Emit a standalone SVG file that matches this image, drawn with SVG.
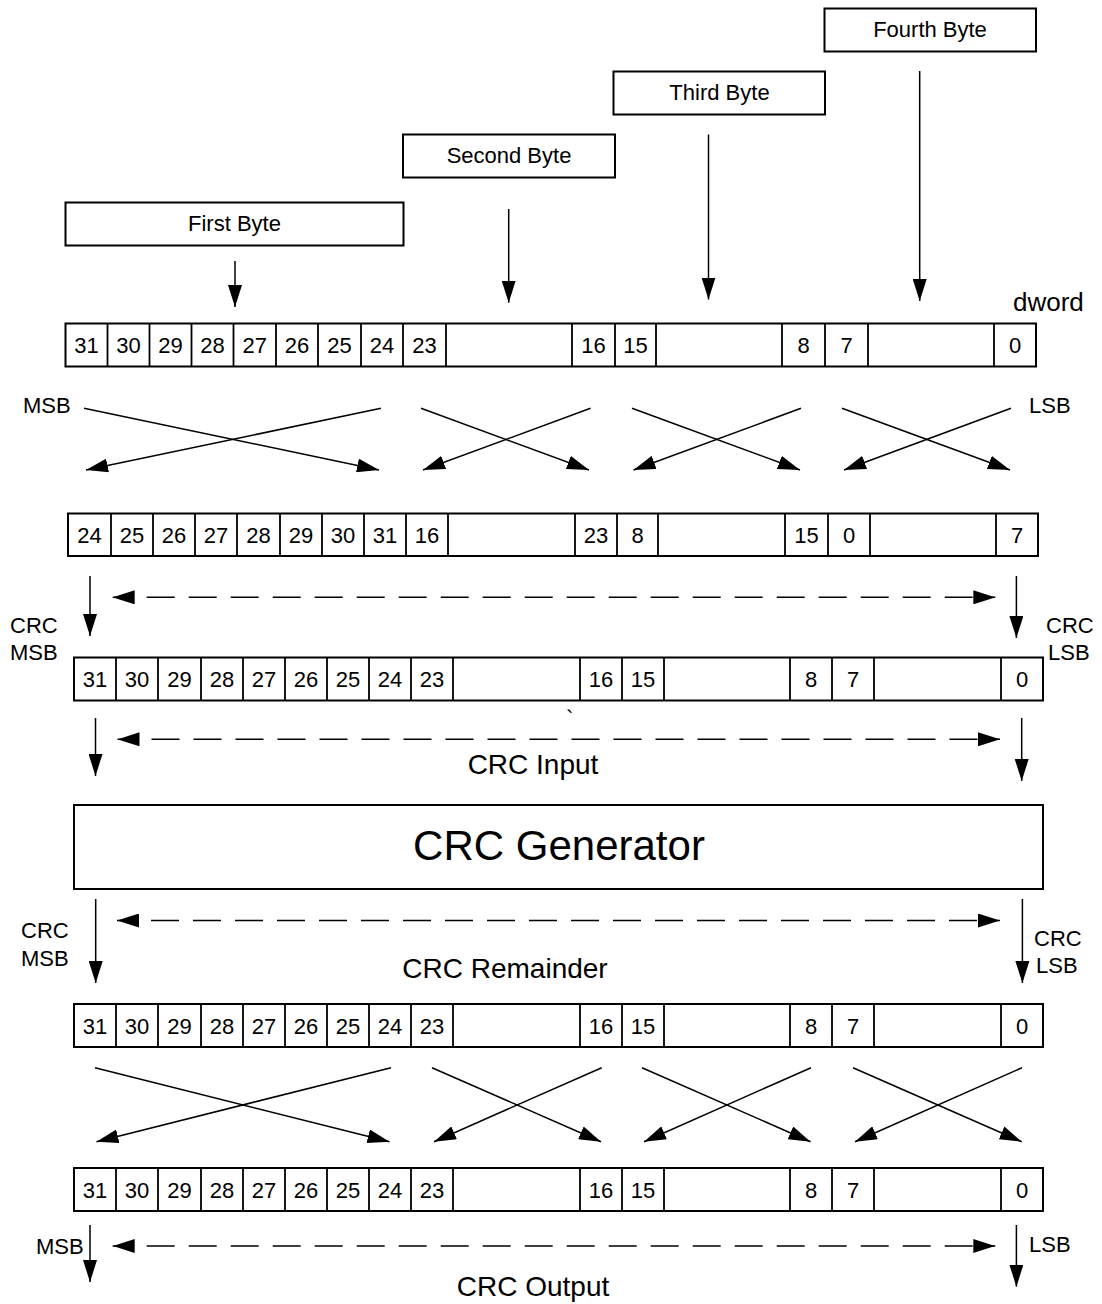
<svg xmlns="http://www.w3.org/2000/svg" width="1102" height="1304" viewBox="0 0 1102 1304">
<style>
text{font-family:"Liberation Sans",Arial,sans-serif;fill:#000}
.lbl{font-size:22px;text-anchor:middle}
.d{font-size:22px;text-anchor:middle}
.big{font-size:28px;text-anchor:middle}
.side{font-size:22px}
.box{fill:#fff;stroke:#000;stroke-width:2}
.div{stroke:#000;stroke-width:1.8}
.ln{stroke:#000;stroke-width:1.5;fill:none;marker-end:url(#ah)}
.dash{stroke:#000;stroke-width:1.5;fill:none;stroke-dasharray:28 14;stroke-dashoffset:8;marker-start:url(#ah);marker-end:url(#ah)}
</style>
<defs>
<marker id="ah" markerUnits="userSpaceOnUse" markerWidth="22" markerHeight="14" refX="22" refY="7" orient="auto-start-reverse">
<path d="M0,0 L22,7 L0,14 z" fill="#000"/>
</marker>
</defs>
<rect width="1102" height="1304" fill="#fff"/>

<g id="fourth-byte"><rect class="box" x="824.5" y="8.5" width="211.5" height="43"/><text class="lbl" x="930" y="37">Fourth Byte</text></g>
<g id="third-byte"><rect class="box" x="613.5" y="71.5" width="211.5" height="43"/><text class="lbl" x="719.5" y="100">Third Byte</text></g>
<g id="second-byte"><rect class="box" x="403" y="134.5" width="212" height="43"/><text class="lbl" x="509" y="163">Second Byte</text></g>
<g id="first-byte"><rect class="box" x="65.5" y="202.5" width="338" height="43"/><text class="lbl" x="234.5" y="231">First Byte</text></g>

<text id="dword-label" x="1013" y="311" style="font-size:26px">dword</text>

<g id="row-dword">
<rect class="box" x="65.5" y="323.5" width="970.5" height="43"/>
<path class="div" d="M107.5,323.5V366.5M149.5,323.5V366.5M191.5,323.5V366.5M233.5,323.5V366.5M276,323.5V366.5M318,323.5V366.5M361,323.5V366.5M403,323.5V366.5M446,323.5V366.5M572,323.5V366.5M615,323.5V366.5M656,323.5V366.5M782,323.5V366.5M825,323.5V366.5M868,323.5V366.5M994,323.5V366.5"/>
<g class="d">
<text x="86.5" y="353">31</text><text x="128.5" y="353">30</text><text x="170.5" y="353">29</text><text x="212.5" y="353">28</text><text x="254.75" y="353">27</text><text x="297" y="353">26</text><text x="339.5" y="353">25</text><text x="382" y="353">24</text><text x="424.5" y="353">23</text><text x="593.5" y="353">16</text><text x="635.5" y="353">15</text><text x="803.5" y="353">8</text><text x="846.5" y="353">7</text><text x="1015" y="353">0</text>
</g>
</g>

<g id="row-swapped">
<rect class="box" x="68" y="513.5" width="970" height="42.5"/>
<path class="div" d="M111,513.5V556M153,513.5V556M195,513.5V556M237,513.5V556M280,513.5V556M322,513.5V556M364,513.5V556M406,513.5V556M448,513.5V556M575,513.5V556M617,513.5V556M658,513.5V556M785,513.5V556M828,513.5V556M870,513.5V556M996,513.5V556"/>
<g class="d">
<text x="89.5" y="543">24</text><text x="132" y="543">25</text><text x="174" y="543">26</text><text x="216" y="543">27</text><text x="258.5" y="543">28</text><text x="301" y="543">29</text><text x="343" y="543">30</text><text x="385" y="543">31</text><text x="427" y="543">16</text><text x="596" y="543">23</text><text x="637.5" y="543">8</text><text x="806.5" y="543">15</text><text x="849" y="543">0</text><text x="1017" y="543">7</text>
</g>
</g>

<g id="row-crc-input">
<rect class="box" x="74" y="657.5" width="969" height="43"/>
<path class="div" d="M116,657.5V700.5M158,657.5V700.5M201,657.5V700.5M243,657.5V700.5M285,657.5V700.5M327,657.5V700.5M369,657.5V700.5M411,657.5V700.5M453,657.5V700.5M580,657.5V700.5M622,657.5V700.5M664,657.5V700.5M790,657.5V700.5M832,657.5V700.5M874,657.5V700.5M1001,657.5V700.5"/>
<g class="d">
<text x="95" y="687">31</text><text x="137" y="687">30</text><text x="179.5" y="687">29</text><text x="222" y="687">28</text><text x="264" y="687">27</text><text x="306" y="687">26</text><text x="348" y="687">25</text><text x="390" y="687">24</text><text x="432" y="687">23</text><text x="601" y="687">16</text><text x="643" y="687">15</text><text x="811" y="687">8</text><text x="853" y="687">7</text><text x="1022" y="687">0</text>
</g>
</g>

<g id="crc-generator">
<rect class="box" x="74" y="805" width="969" height="84"/>
<text x="559" y="860" style="font-size:42px;text-anchor:middle">CRC Generator</text>
</g>

<g id="row-crc-remainder">
<rect class="box" x="74" y="1004" width="969" height="43"/>
<path class="div" d="M116,1004V1047M158,1004V1047M201,1004V1047M243,1004V1047M285,1004V1047M327,1004V1047M369,1004V1047M411,1004V1047M453,1004V1047M580,1004V1047M622,1004V1047M664,1004V1047M790,1004V1047M832,1004V1047M874,1004V1047M1001,1004V1047"/>
<g class="d">
<text x="95" y="1033.5">31</text><text x="137" y="1033.5">30</text><text x="179.5" y="1033.5">29</text><text x="222" y="1033.5">28</text><text x="264" y="1033.5">27</text><text x="306" y="1033.5">26</text><text x="348" y="1033.5">25</text><text x="390" y="1033.5">24</text><text x="432" y="1033.5">23</text><text x="601" y="1033.5">16</text><text x="643" y="1033.5">15</text><text x="811" y="1033.5">8</text><text x="853" y="1033.5">7</text><text x="1022" y="1033.5">0</text>
</g>
</g>

<g id="row-crc-output">
<rect class="box" x="74" y="1168" width="969" height="43"/>
<path class="div" d="M116,1168V1211M158,1168V1211M201,1168V1211M243,1168V1211M285,1168V1211M327,1168V1211M369,1168V1211M411,1168V1211M453,1168V1211M580,1168V1211M622,1168V1211M664,1168V1211M790,1168V1211M832,1168V1211M874,1168V1211M1001,1168V1211"/>
<g class="d">
<text x="95" y="1197.5">31</text><text x="137" y="1197.5">30</text><text x="179.5" y="1197.5">29</text><text x="222" y="1197.5">28</text><text x="264" y="1197.5">27</text><text x="306" y="1197.5">26</text><text x="348" y="1197.5">25</text><text x="390" y="1197.5">24</text><text x="432" y="1197.5">23</text><text x="601" y="1197.5">16</text><text x="643" y="1197.5">15</text><text x="811" y="1197.5">8</text><text x="853" y="1197.5">7</text><text x="1022" y="1197.5">0</text>
</g>
</g>

<g id="labels">
<text class="side" x="23" y="413">MSB</text>
<text class="side" x="1029" y="413">LSB</text>
<text class="side" x="10" y="633">CRC</text>
<text class="side" x="10" y="660">MSB</text>
<text class="side" x="1046" y="633">CRC</text>
<text class="side" x="1048" y="660">LSB</text>
<text x="566" y="726" style="font-size:22px">`</text>
<text class="big" x="533" y="774">CRC Input</text>
<text class="side" x="21" y="938">CRC</text>
<text class="side" x="21" y="966">MSB</text>
<text class="side" x="1034" y="946">CRC</text>
<text class="side" x="1036" y="973">LSB</text>
<text class="big" x="505" y="978">CRC Remainder</text>
<text class="side" x="36" y="1254">MSB</text>
<text class="side" x="1029" y="1252">LSB</text>
<text class="big" x="533" y="1296">CRC Output</text>
</g>

<g id="connectors">
<line class="ln" x1="235" y1="261" x2="235" y2="307"/>
<line class="ln" x1="508.7" y1="209" x2="508.7" y2="302.7"/>
<line class="ln" x1="708.5" y1="134.5" x2="708.5" y2="299.5"/>
<line class="ln" x1="919.7" y1="71" x2="919.7" y2="301"/>

<line class="ln" x1="84" y1="408.3" x2="379" y2="470"/>
<line class="ln" x1="381" y1="408.3" x2="86" y2="470"/>
<line class="ln" x1="421" y1="408.3" x2="589" y2="470"/>
<line class="ln" x1="590.5" y1="408.3" x2="423" y2="470"/>
<line class="ln" x1="632" y1="408.3" x2="800" y2="470"/>
<line class="ln" x1="801" y1="408.3" x2="633.5" y2="470"/>
<line class="ln" x1="842" y1="408.3" x2="1010" y2="470"/>
<line class="ln" x1="1011" y1="408.3" x2="844" y2="470"/>

<line class="ln" x1="90" y1="576" x2="90" y2="636"/>
<line class="ln" x1="1016.4" y1="576" x2="1016.4" y2="638"/>
<line class="dash" x1="112.7" y1="597.3" x2="995.3" y2="597.3"/>

<line class="ln" x1="95.5" y1="718" x2="95.5" y2="776"/>
<line class="ln" x1="1021.7" y1="718" x2="1021.7" y2="781"/>
<line class="dash" x1="117.5" y1="739.3" x2="1000" y2="739.3"/>

<line class="ln" x1="95.7" y1="899" x2="95.7" y2="983"/>
<line class="ln" x1="1022.4" y1="899" x2="1022.4" y2="983"/>
<line class="dash" x1="117" y1="920.5" x2="1000" y2="920.5"/>

<line class="ln" x1="95" y1="1067.7" x2="389.5" y2="1141.7"/>
<line class="ln" x1="391" y1="1067.7" x2="96.5" y2="1141.7"/>
<line class="ln" x1="432" y1="1067.7" x2="601" y2="1141.7"/>
<line class="ln" x1="601.7" y1="1067.7" x2="434" y2="1141.7"/>
<line class="ln" x1="642" y1="1067.7" x2="810.5" y2="1141.7"/>
<line class="ln" x1="811" y1="1067.7" x2="644" y2="1141.7"/>
<line class="ln" x1="853" y1="1067.7" x2="1021.7" y2="1141.7"/>
<line class="ln" x1="1022" y1="1067.7" x2="855" y2="1141.7"/>

<line class="ln" x1="90" y1="1225" x2="90" y2="1282"/>
<line class="ln" x1="1016.4" y1="1225" x2="1016.4" y2="1286.7"/>
<line class="dash" x1="112.7" y1="1246" x2="995.3" y2="1246"/>
</g>
</svg>
